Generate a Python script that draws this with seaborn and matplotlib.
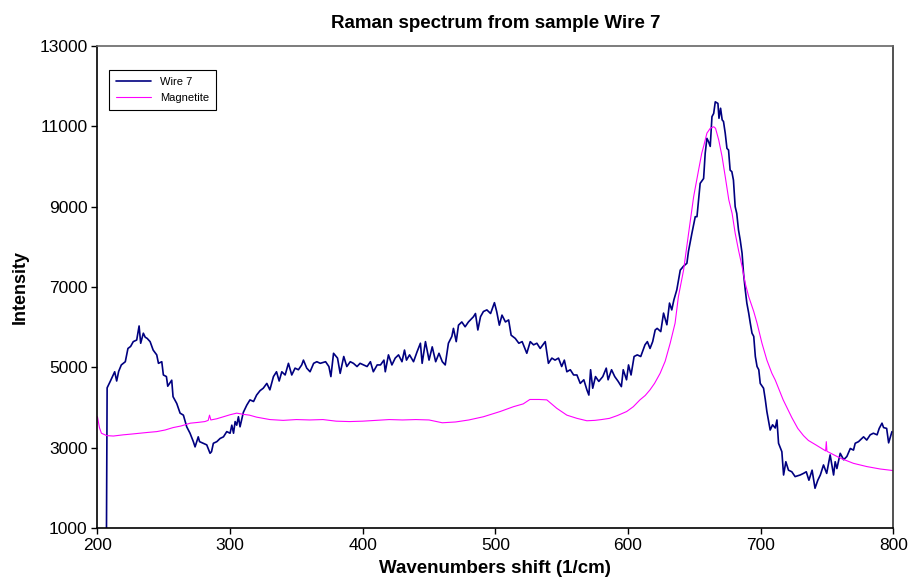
import numpy as np
import pandas as pd
import matplotlib
matplotlib.use("Agg")
import matplotlib.pyplot as plt
import seaborn as sns

# Wire 7 spectrum: wavenumber shift (1/cm) and intensity
wire7_shift = [
    206.8, 207.3, 209.5, 211, 213, 214.5, 216, 218, 221, 223, 225, 227, 229.6, 231.4, 232.6,
    234.6, 236, 237.5, 239.7, 242, 244.7, 246, 248.5, 249.7, 252, 253, 256, 257, 259.8, 262.3,
    264.8, 267.3, 269.8, 272.3, 273.6, 276, 277, 279.8, 282.4, 284.9, 286, 287.4, 290, 292.5,
    295, 297.5, 300, 301.3, 302.6, 303.8, 305, 306.3, 307.5, 310, 312.6, 315, 317.7, 320,
    322.6, 325, 327.7, 330, 332.7, 335, 337, 339, 341.5, 344, 346.5, 349, 351.5, 354, 355.3,
    357.8, 360.3, 363, 365.4, 368, 372, 374.5, 376, 378, 381, 383, 385.7, 388, 390.6, 393,
    395.7, 398, 400.7, 403.3, 405.8, 408, 410.9, 413.4, 416, 417, 419.4, 422, 424.5, 427,
    429.6, 431.5, 433, 435.3, 438.3, 441, 443.5, 444.8, 447.3, 450, 452.4, 455, 457.5, 460,
    462.2, 464.6, 467.2, 468.4, 470.5, 472.2, 474.7, 477.2, 479.7, 483.5, 485, 486.8, 488.8,
    491, 493.6, 496.4, 499.3, 501, 503, 505, 507.6, 510, 511.9, 515, 517.7, 520.2, 523.7,
    526.3, 528.8, 531.3, 533.8, 537.6, 540, 542.6, 545, 547.6, 550, 552, 553.9, 556.5, 559,
    561.5, 564, 566.7, 569, 570.5, 571.8, 573.4, 575.5, 578, 581, 583.6, 585, 587.6, 590,
    592.6, 595, 596.4, 598.9, 600.4, 602.3, 604.6, 607, 609.6, 612.8, 614.6, 616.6, 618.6,
    620.5, 622, 624.7, 626.8, 629.3, 631.3, 633, 634.6, 636.8, 639.4, 641.9, 644.4, 645.6,
    648.2, 650.7, 652, 654.4, 657, 658.2, 659.5, 660.7, 662, 663.3, 664.6, 665.8, 667.8,
    668.6, 669.8, 671, 672, 673.3, 674.6, 675.8, 677, 678.3, 679.5, 680.8, 682, 683.3, 684.6,
    686, 687.1, 688.4, 689.6, 691, 692.2, 693.5, 694.8, 696, 697.3, 698.6, 699.7, 702.2,
    703.5, 704.7, 707.2, 709, 711, 712.3, 713.5, 716, 717.3, 719, 721, 723.5, 726, 729.8,
    732.3, 734.4, 736.4, 738.8, 741, 743.1, 745, 747.4, 749.8, 752.4, 755, 756.2, 757.5,
    760, 762.6, 765, 767.6, 770, 771.3, 773.8, 777.6, 780, 782.6, 785, 787.8, 789.4, 791.5,
    792.7, 795, 796.5, 799, 800,
]
wire7_intensity = [
    900, 4490, 4640, 4750, 4890, 4660, 4900, 5060, 5140, 5470, 5520, 5640, 5680, 6030, 5600,
    5850, 5750, 5720, 5640, 5430, 5310, 5100, 5140, 4810, 4770, 4530, 4680, 4270, 4100, 3860,
    3810, 3520, 3360, 3150, 3020, 3270, 3150, 3110, 3070, 2860, 2900, 3110, 3150, 3230,
    3270, 3400, 3360, 3560, 3360, 3650, 3560, 3770, 3520, 3880, 4060, 4190, 4150, 4310,
    4420, 4480, 4600, 4440, 4770, 4890, 4660, 4890, 4810, 5100, 4810, 4980, 4940, 5060, 5180,
    4980, 4890, 5100, 5140, 5100, 5140, 5020, 4770, 5350, 5230, 4850, 5270, 5020, 5140, 5100,
    5020, 5100, 5060, 5020, 5140, 4890, 5060, 5060, 5180, 4890, 5310, 5060, 5230, 5310,
    5140, 5430, 5180, 5310, 5140, 5390, 5600, 5100, 5640, 5180, 5510, 5140, 5350, 5140,
    5060, 5600, 5770, 5970, 5640, 6050, 6130, 6010, 6130, 6260, 6340, 5930, 6260,
    6390, 6430, 6340, 6610, 6390, 6050, 6300, 6130, 6180, 5800, 5720, 5600, 5640, 5350,
    5640, 5560, 5600, 5470, 5640, 5100, 5230, 5180, 5230, 5020, 5180, 4890, 4940, 4810,
    4810, 4600, 4690, 4440, 4310, 4940, 4480, 4770, 4650, 4770, 4980, 4690, 4940, 4770,
    4650, 4520, 4940, 4690, 5060, 4810, 5270, 5310, 5270, 5560, 5640, 5470, 5640,
    5930, 5970, 5890, 6350, 6060, 6600, 6430, 6680, 6930, 7420, 7520, 7590, 7890,
    8340, 8750, 8750, 9580, 9700, 10330, 10700, 10620, 10500, 11240, 11320, 11610, 11570,
    11200, 11450, 11160, 11120, 10830, 10450, 10410, 9910, 9870, 9660, 9000, 8830, 8420, 8170,
    7840, 7340, 6930, 6600, 6350, 6100, 5850, 5770, 5270, 5020, 4940, 4600, 4480,
    4200, 3900, 3440, 3570, 3490, 3690, 3110, 2900, 2320, 2650, 2440, 2400, 2280, 2320,
    2360, 2400, 2190, 2440, 1990, 2190, 2320, 2570, 2360, 2820, 2320, 2650, 2480,
    2860, 2700, 2780, 2980, 2940, 3110, 3150, 3270, 3190, 3320, 3360, 3320, 3480, 3610,
    3500, 3480, 3120, 3400, 3380,
]

# Magnetite reference spectrum
magnetite_shift = [
    200, 201.5, 203, 207, 212, 219.5, 226, 232, 238, 244.7, 251, 257, 263, 270, 276, 281,
    283.5, 284.5, 285.5, 290, 295, 300, 305, 310, 314.6, 320, 330, 340, 350, 360, 370, 380,
    390, 400, 410, 420, 430, 440, 450, 460, 470, 480, 491, 503.6, 513.6, 521, 526, 533,
    538.8, 546.3, 553.9, 561.5, 569, 575, 580, 586, 592, 599, 604, 609, 613, 616.6, 620,
    624.2, 628, 631.8, 635.5, 638, 641.9, 645.7, 649.5, 653.2, 655.6, 657, 659.5, 662,
    664.6, 666, 668.4, 670.9, 673.3, 676, 678.5, 680.8, 683.3, 686, 688.4, 691, 694.8,
    697.3, 701, 704.7, 708.5, 711, 717, 723.5, 728, 732.3, 736, 741.6, 749, 749.5, 750, 760, 770,
    780, 790, 800,
]
magnetite_intensity = [
    3770, 3500, 3360, 3300, 3290, 3320, 3340, 3360, 3380, 3400, 3440, 3500, 3540, 3610, 3630, 3650,
    3680, 3810, 3690, 3720, 3770, 3820, 3860, 3830, 3810, 3760, 3700, 3680, 3700, 3690, 3700, 3660,
    3650, 3660, 3680, 3700, 3690, 3700, 3690, 3620, 3640, 3690, 3770, 3900, 4020, 4090, 4200, 4200,
    4190, 3980, 3810, 3730, 3670, 3680, 3700, 3730, 3800, 3900, 4020, 4190, 4300, 4440, 4600,
    4850, 5150, 5600, 6100, 6760, 7420, 8340, 9250, 9910, 10330, 10500, 10830, 10950,
    10990, 10950, 10660, 10250, 9750, 9170, 8830, 8340, 7920, 7510, 7090, 6760, 6390,
    6100, 5600, 5180, 4850, 4685, 4190, 3750, 3480, 3300, 3180, 3070, 2920, 3150, 2910, 2740, 2610,
    2530, 2470, 2430,
]

series_names = ["Wire 7", "Magnetite"]
series_colors = ["#000080", "#FF00FF"]

wire_df = pd.DataFrame({"shift": wire7_shift, "intensity": wire7_intensity, "series": series_names[0]})
mag_df = pd.DataFrame({"shift": magnetite_shift, "intensity": magnetite_intensity, "series": series_names[1]})

sns.set_style("white")
plt.rcParams["font.family"] = ["Liberation Sans", "DejaVu Sans"]
plt.rcParams["text.color"] = "black"
plt.rcParams["axes.labelcolor"] = "black"
plt.rcParams["xtick.color"] = "black"
plt.rcParams["ytick.color"] = "black"

fig = plt.figure(figsize=(9.09, 5.85), dpi=100)
ax = fig.add_axes([0.1072, 0.0974, 0.8755, 0.8240])

sns.lineplot(data=wire_df, x="shift", y="intensity", ax=ax, color=series_colors[0],
             linewidth=1.2, sort=False, estimator=None, label=series_names[0])
sns.lineplot(data=mag_df, x="shift", y="intensity", ax=ax, color=series_colors[1],
             linewidth=0.8, sort=False, estimator=None, label=series_names[1])

ax.set_xlim(200, 800)
ax.set_ylim(1000, 13000)
ax.set_xticks(np.arange(200, 801, 100))
ax.set_yticks(np.arange(1000, 13001, 2000))
ax.tick_params(axis="both", direction="out", length=4, width=1, labelsize=12.5,
               color="black", labelcolor="black", bottom=True, left=True, pad=3)

for side in ["left", "bottom"]:
    ax.spines[side].set_color("black")
    ax.spines[side].set_linewidth(1.2)
ax.spines["top"].set_color("#666666")
ax.spines["right"].set_color("#333333")
ax.spines["top"].set_linewidth(1.2)
ax.spines["right"].set_linewidth(1.2)

ax.set_title("Raman spectrum from sample Wire 7", fontsize=13.5, fontweight="bold",
             pad=13, color="black")
ax.set_xlabel("Wavenumbers shift (1/cm)", fontsize=13.5, fontweight="bold", labelpad=5,
              color="black")
ax.set_ylabel("Intensity", fontsize=13, fontweight="bold", labelpad=8, color="black")

leg = ax.legend(loc="upper left", bbox_to_anchor=(0.0146, 0.95), borderaxespad=0,
                fontsize=8, handlelength=3.2, frameon=True, fancybox=False,
                edgecolor="black", framealpha=1, borderpad=0.6, labelspacing=0.55)
leg.get_frame().set_linewidth(0.8)
for txt in leg.get_texts():
    txt.set_color("black")

fig.savefig("out.png", dpi=100)
